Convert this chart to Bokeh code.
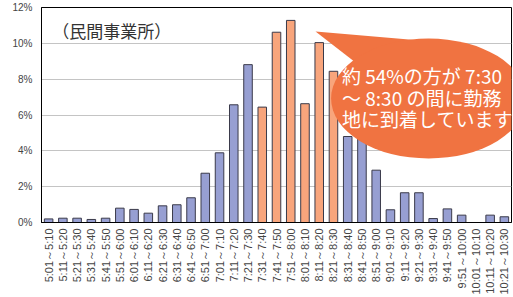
import math
from bokeh.plotting import figure
from bokeh.models import FactorRange, ColumnDataSource, FixedTicker, PrintfTickFormatter
from bokeh.core.properties import value
from bokeh.embed import file_html
from bokeh.resources import INLINE

# ---- data ----
categories = [
    "5:01～5:10", "5:11～5:20", "5:21～5:30", "5:31～5:40", "5:41～5:50", "5:51～6:00",
    "6:01～6:10", "6:11～6:20", "6:21～6:30", "6:31～6:40", "6:41～6:50", "6:51～7:00",
    "7:01～7:10", "7:11～7:20", "7:21～7:30", "7:31～7:40", "7:41～7:50", "7:51～8:00",
    "8:01～8:10", "8:11～8:20", "8:21～8:30", "8:31～8:40", "8:41～8:50", "8:51～9:00",
    "9:01～9:10", "9:11～9:20", "9:21～9:30", "9:31～9:40", "9:41～9:50", "9:51～10:00",
    "10:01～10:10", "10:11～10:20", "10:21～10:30",
]
shares = [
    0.20, 0.24, 0.24, 0.17, 0.24, 0.80,
    0.73, 0.52, 0.93, 0.99, 1.38, 2.75,
    3.89, 6.57, 8.81, 6.44, 10.62, 11.28,
    6.63, 10.04, 8.44, 4.80, 5.20, 2.92,
    0.71, 1.66, 1.66, 0.22, 0.76, 0.41,
    0.00, 0.41, 0.32,
]
highlighted = ["7:31～7:40", "7:41～7:50", "7:51～8:00", "8:01～8:10", "8:11～8:20", "8:21～8:30"]
y_ticks = [0, 2, 4, 6, 8, 10, 12]
title_text = "（民間事業所）"
callout_lines = ["約 54%の方が 7:30", "～ 8:30 の間に勤務", "地に到着しています"]

BLUE = "#979FD2"
ORANGE = "#F8A57C"
CALLOUT = "#F07341"

colors = [ORANGE if c in highlighted else BLUE for c in categories]
src = ColumnDataSource(dict(cat=categories, val=shares, color=colors))

p = figure(
    width=513, height=297,
    x_range=FactorRange(factors=categories, range_padding=0),
    y_range=(0, 12),
    output_backend="svg", toolbar_location=None,
    min_border_left=41, min_border_right=2, min_border_top=7, min_border_bottom=75,
)
p.background_fill_color = "white"
p.border_fill_color = "white"
p.outline_line_color = "black"
p.outline_line_width = 1

p.vbar(x="cat", top="val", width=0.6, source=src, fill_color="color",
       line_color="#3A3A4A", line_width=1)

# grid
p.xgrid.grid_line_color = None
p.ygrid.grid_line_color = "#C4C4C4"
p.ygrid.ticker = FixedTicker(ticks=y_ticks)

# axes
p.yaxis.ticker = FixedTicker(ticks=y_ticks)
p.yaxis.formatter = PrintfTickFormatter(format="%d%%")
p.yaxis.major_tick_out = 0
p.yaxis.major_tick_in = 0
p.yaxis.minor_tick_line_color = None
p.yaxis.axis_line_color = "black"
p.yaxis.major_label_text_font = "Liberation Sans"
p.yaxis.major_label_text_font_size = "10px"
p.yaxis.major_label_text_color = "#444444"
p.yaxis.major_label_standoff = 9

p.xaxis.major_label_orientation = math.pi / 2
p.xaxis.major_tick_out = 0
p.xaxis.major_tick_in = 0
p.xaxis.axis_line_color = "black"
p.xaxis.major_label_text_font = "Liberation Sans"
p.xaxis.major_label_text_font_size = "11px"
p.xaxis.major_label_text_color = "#444444"
p.xaxis.major_label_standoff = 6

# title inside plot
p.text(x=[0.75], y=[10.72], text=[title_text], text_font=value("Noto Sans CJK JP"),
       text_font_size="17px", text_color="#333333", text_baseline="middle", text_align="left")

# callout bubble
p.patch(x=[19.24, 26.62, 22.05], y=[10.66, 10.16, 8.93], fill_color=CALLOUT, line_color=None)
p.ellipse(x=[27.18], y=[6.92], width=195, height=120, width_units="screen", height_units="screen",
          fill_color=CALLOUT, line_color=None)
p.text(x=[21.1] * 3, y=[8.2, 6.98, 5.8], text=callout_lines,
       text_font=value("Noto Sans CJK JP"), text_font_size="19px", text_color="white",
       text_baseline="middle", text_align="left")

open("out.html", "w").write(file_html(p, INLINE))
